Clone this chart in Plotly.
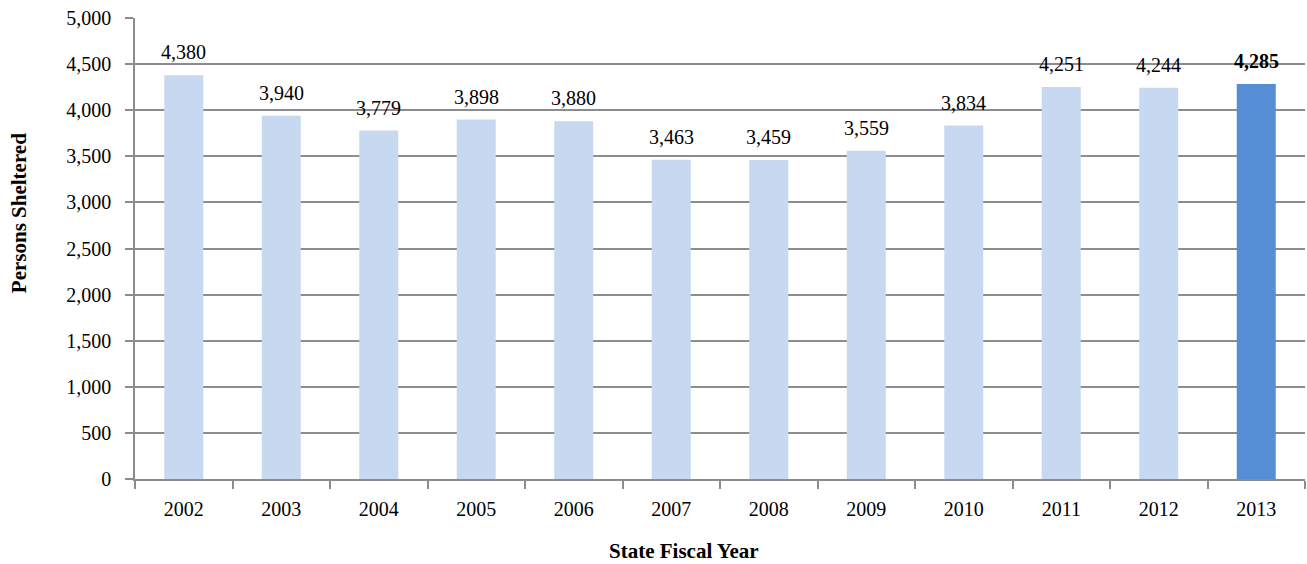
import plotly.graph_objects as go

years = ["2002", "2003", "2004", "2005", "2006", "2007", "2008", "2009", "2010", "2011", "2012", "2013"]
persons = [4380, 3940, 3779, 3898, 3880, 3463, 3459, 3559, 3834, 4251, 4244, 4285]

light = "#C6D9F1"
dark = "#558ED5"
colors = [light] * (len(years) - 1) + [dark]
labels = [f"{v:,}" for v in persons]
labels[-1] = f"<b>{labels[-1]}</b>"

font_family = "Liberation Serif, DejaVu Serif, serif"
grid = "#8C8C8C"

fig = go.Figure(go.Bar(
    x=years, y=persons, marker=dict(color=colors, line=dict(width=0)),
    width=0.4, hoverinfo="x+y",
))

for i, (v, lab) in enumerate(zip(persons, labels)):
    fig.add_annotation(x=i, y=v, text=lab, showarrow=False, yanchor="bottom",
                       yshift=10, font=dict(family=font_family, size=20, color="black"))

fig.add_annotation(xref="paper", yref="paper", x=0.469, y=-0.156, yanchor="middle",
                   text="<b>State Fiscal Year</b>", showarrow=False,
                   font=dict(family=font_family, size=21, color="black"))
fig.add_annotation(xref="paper", yref="paper", x=-0.099, y=0.577, xanchor="center",
                   yanchor="middle", textangle=-90,
                   text="<b>Persons Sheltered</b>", showarrow=False,
                   font=dict(family=font_family, size=21, color="black"))

fig.update_layout(
    width=1307, height=564,
    margin=dict(l=135, r=2, t=18, b=85),
    paper_bgcolor="white", plot_bgcolor="white",
    font=dict(family=font_family, size=20, color="black"),
    showlegend=False,
    xaxis=dict(
        type="category", showline=True, linecolor=grid, linewidth=1.5,
        ticks="outside", tickson="boundaries", ticklen=8, tickcolor=grid, tickwidth=1.5,
        tickfont=dict(size=20), ticklabelstandoff=11, automargin=False,
    ),
    yaxis=dict(
        range=[0, 5000], dtick=500, tickformat=",",
        showline=True, linecolor=grid, linewidth=1.5,
        ticks="outside", ticklen=8, tickcolor=grid, tickwidth=1.5,
        showgrid=True, gridcolor=grid, gridwidth=1.5,
        zeroline=False,
        tickfont=dict(size=20), ticklabelstandoff=10, automargin=False,
    ),
)

fig.write_html("out.html", config={"displayModeBar": False},
               post_script="document.body.style.margin='0';")
